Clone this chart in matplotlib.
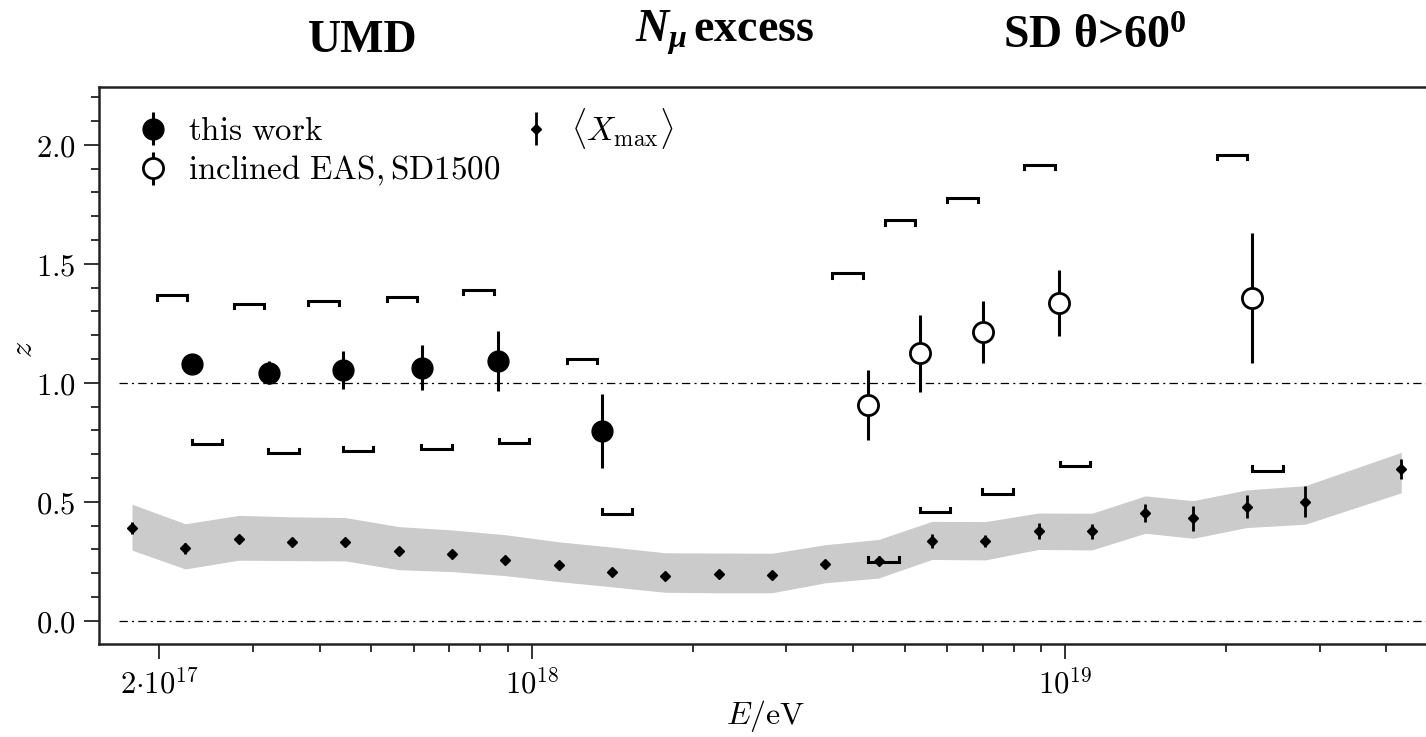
import matplotlib
matplotlib.use("Agg")
import matplotlib.pyplot as plt
import numpy as np

plt.rcParams['mathtext.fontset'] = 'cm'
plt.rcParams['mathtext.it'] = 'Liberation Serif:italic:bold'
plt.rcParams['mathtext.rm'] = 'Liberation Serif:bold'
plt.rcParams['mathtext.bf'] = 'Liberation Serif:bold'
plt.rcParams['lines.scale_dashes'] = False

# UMD, this work
umd_lgE = [17.362, 17.506, 17.646, 17.793, 17.937, 18.131]
umd_z = [1.078, 1.043, 1.054, 1.064, 1.093, 0.797]
umd_err = [0.02, 0.05, 0.08, 0.096, 0.126, 0.155]
umd_sys_hi_lgE = [17.325, 17.469, 17.609, 17.756, 17.900, 18.094]
umd_sys_hi_z = [1.368, 1.333, 1.344, 1.362, 1.392, 1.100]
umd_sys_lo_lgE = [17.391, 17.534, 17.674, 17.821, 17.966, 18.159]
umd_sys_lo_z = [0.742, 0.706, 0.713, 0.722, 0.748, 0.450]

# inclined EAS, SD1500
inc_lgE = [18.630, 18.727, 18.845, 18.989, 19.351]
inc_z = [0.906, 1.125, 1.212, 1.336, 1.355]
inc_err = [0.147, 0.162, 0.130, 0.140, 0.273]
inc_sys_hi_lgE = [18.592, 18.690, 18.807, 18.952, 19.313]
inc_sys_hi_z = [1.460, 1.683, 1.777, 1.915, 1.958]
inc_sys_lo_lgE = [18.659, 18.756, 18.873, 19.018, 19.379]
inc_sys_lo_z = [0.249, 0.457, 0.535, 0.650, 0.631]

# <Xmax>
xm_lgE = [17.25, 17.35, 17.45, 17.55, 17.65, 17.75, 17.85, 17.95, 18.05, 18.15,
          18.25, 18.35, 18.45, 18.55, 18.65, 18.75, 18.85, 18.95, 19.05, 19.15,
          19.24, 19.34, 19.45, 19.63]
xm_z = [0.389, 0.305, 0.342, 0.333, 0.333, 0.293, 0.279, 0.257, 0.233, 0.207,
        0.189, 0.199, 0.193, 0.238, 0.253, 0.336, 0.336, 0.377, 0.376, 0.452,
        0.431, 0.480, 0.501, 0.638]
xm_err = [0.025, 0.024, 0.012, 0.012, 0.012, 0.012, 0.012, 0.012, 0.012, 0.012,
          0.012, 0.012, 0.012, 0.012, 0.02, 0.028, 0.025, 0.033, 0.033, 0.038,
          0.052, 0.048, 0.065, 0.043]
band_hi = [0.490, 0.408, 0.443, 0.437, 0.434, 0.396, 0.382, 0.362, 0.332, 0.310,
           0.286, 0.285, 0.284, 0.320, 0.342, 0.418, 0.417, 0.453, 0.452, 0.525,
           0.505, 0.550, 0.568, 0.708]
band_lo = [0.297, 0.218, 0.255, 0.253, 0.252, 0.215, 0.207, 0.190, 0.165, 0.143,
           0.120, 0.118, 0.118, 0.160, 0.180, 0.258, 0.256, 0.300, 0.298, 0.368,
           0.347, 0.392, 0.406, 0.538]

W, H = 1426, 737
fig = plt.figure(figsize=(W / 100, H / 100), dpi=100)
ax = fig.add_axes([99 / W, 92.8 / H, 1331 / W, 557.5 / H])

xm_E = 10 ** np.array(xm_lgE)
ax.fill_between(xm_E, band_lo, band_hi, color='#cbcbcb', lw=0, zorder=0)

line_style = dict(color='black', lw=0.9, dashes=(6, 3, 1.5, 3), zorder=1)
ax.plot([1.68e17, 6e19], [1, 1], **line_style)
ax.plot([1.68e17, 6e19], [0, 0], **line_style)


def brackets(lgE, z, up):
    half = 0.0285
    t = 0.018 if up else -0.018
    for e, v in zip(lgE, z):
        xs = [10 ** (e - half), 10 ** (e - half), 10 ** (e + half), 10 ** (e + half)]
        ax.plot(xs, [v - t, v, v, v - t], color='black', lw=2.2,
                solid_joinstyle='miter', zorder=2)


brackets(umd_sys_hi_lgE, umd_sys_hi_z, True)
brackets(umd_sys_lo_lgE, umd_sys_lo_z, False)
brackets(inc_sys_hi_lgE, inc_sys_hi_z, True)
brackets(inc_sys_lo_lgE, inc_sys_lo_z, False)

h1 = ax.errorbar(10 ** np.array(umd_lgE), umd_z, yerr=umd_err, fmt='o', color='black',
                 ms=15, elinewidth=2.2, capsize=0, zorder=4)
h2 = ax.errorbar(10 ** np.array(inc_lgE), inc_z, yerr=inc_err, fmt='o', color='black',
                 mfc='white', mec='black', mew=2, ms=14.5, elinewidth=2.2, capsize=0, zorder=4)
h3 = ax.errorbar(xm_E, xm_z, yerr=xm_err, fmt='D', color='black', ms=5.5,
                 elinewidth=2, capsize=0, zorder=3)

ax.set_xscale('log')
ax.set_xlim(1.542e17, 4.83e19)
ax.set_ylim(-0.098, 2.244)

ax.set_xticks([2e17, 1e18, 1e19],
              [r'$2{\cdot}10^{17}$', r'$10^{18}$', r'$10^{19}$'])
minor_x = [k * 10.0 ** p for p in (17, 18, 19) for k in range(2, 10)]
minor_x = [v for v in minor_x if 2.5e17 < v < 4.8e19 and v not in (1e18, 1e19)]
ax.set_xticks(minor_x, minor=True)
ax.set_yticks([0, 0.5, 1.0, 1.5, 2.0],
              [r'$0.0$', r'$0.5$', r'$1.0$', r'$1.5$', r'$2.0$'])
ax.set_yticks(np.arange(0, 2.25, 0.1), minor=True)
ax.tick_params(which='major', length=11, width=1.3, labelsize=22, pad=6, color='#222222')
ax.tick_params(which='minor', length=6, width=1.3, color='#222222')
for s in ax.spines.values():
    s.set_linewidth(1.8)
    s.set_color('#222222')

fig.text(766 / W, 1 - 716 / H, r'$E/\mathrm{eV}$', fontsize=23, ha='center', va='center')
fig.text(23 / W, 1 - 350 / H, r'$z$', fontsize=23, rotation=90, ha='center', va='center')

ax.legend([h1, h2, h3],
          [r'$\mathrm{this\ work}$', r'$\mathrm{inclined\ EAS,SD1500}$',
           r'$\langle X_\mathrm{max}\rangle$'],
          ncol=2, loc='upper left', bbox_to_anchor=(0.028, 0.966), frameon=False,
          fontsize=23.8, borderpad=0, borderaxespad=0, handlelength=1.0,
          handletextpad=0.55, columnspacing=0.6, labelspacing=0.2)

title_style = dict(fontsize=33, fontweight='bold', fontfamily='Liberation Serif',
                   math_fontfamily='custom')
fig.text(363 / W, 1 - 52 / H, 'UMD', ha='center', va='baseline', **title_style)
fig.text(635 / W, 1 - 42 / H, r'$N_\mu\,$excess', ha='left', va='baseline', **title_style)
fig.text(1003 / W, 1 - 48 / H, r'SD θ>60$^{\mathbf{0}}$', ha='left', va='baseline', **title_style)

fig.savefig('out.png', dpi=100)
